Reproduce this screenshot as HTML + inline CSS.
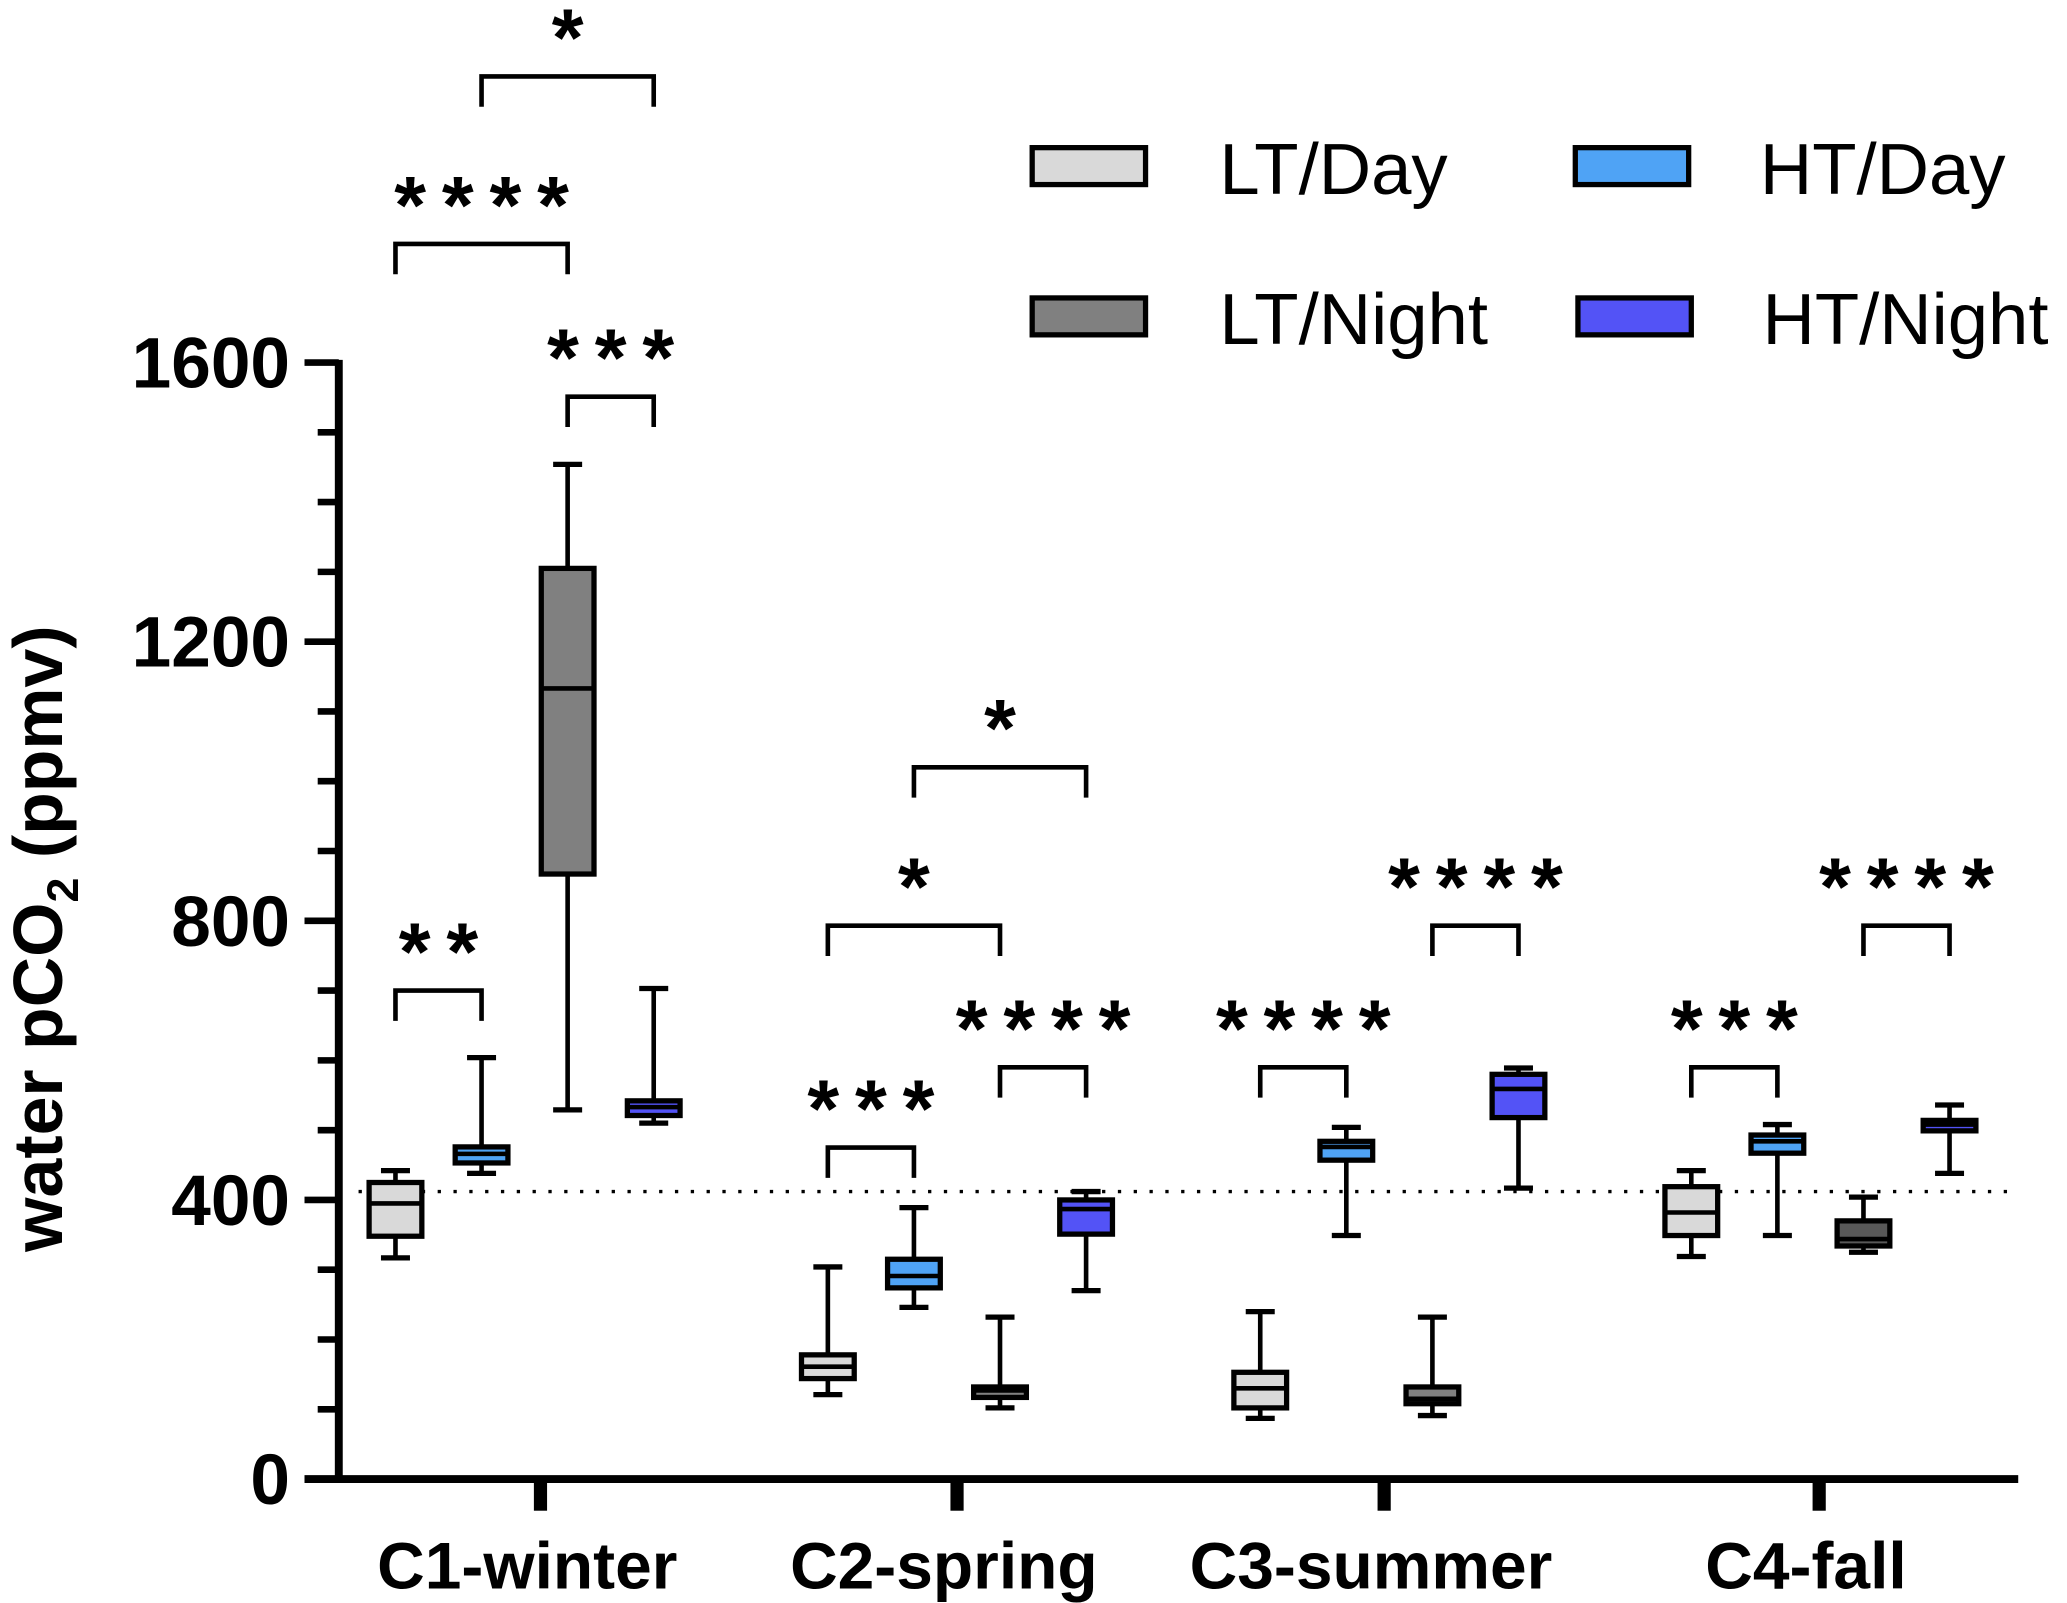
<!DOCTYPE html>
<html><head><meta charset="utf-8"><style>
html,body{margin:0;padding:0;background:#fff}
svg{display:block}
text{font-family:"Liberation Sans",Arial,sans-serif;fill:#000}
</style></head><body>
<svg id="chart" xmlns="http://www.w3.org/2000/svg" width="2067" height="1603" viewBox="0 0 1568 1216">
<g id="axes"></g>
<g id="marks"></g>
<g id="sig"></g>
<g id="legend"></g>
<text transform="translate(47,712) rotate(-90)" text-anchor="middle" font-size="53" font-weight="bold">water pCO<tspan font-size="34" dy="12">2</tspan><tspan dy="-12"> (ppmv)</tspan></text>
</svg>
<script>
const categories = ["C1-winter","C2-spring","C3-summer","C4-fall"];
const seriesNames = ["LT/Day","HT/Day","LT/Night","HT/Night"];
const yTicks = [0,400,800,1200,1600];
// [min,q1,median,q3,max] per category
const ltDay   = [[317,348,395,425,442],[121,144,161,178,304],[87,102,130,153,240],[319,349,382,419,442]];
const htDay   = [[438,453,466,476,604],[246,274,291,315,389],[349,457,476,484,504],[349,467,484,493,508]];
const ltNight = [[529,867,1133,1305,1454],[102,117,127,132,232],[91,108,115,132,232],[325,334,344,370,404]];
const htNight = [[510,521,533,542,703],[270,351,387,400,412],[417,518,559,580,589],[438,499,508,514,536]];
const refLine = 412;
// brackets: [category, fromSeries, toSeries, bracketValue, label]
const brackets = [
 [0,1,3,2010,"*"],[0,0,2,1770,"****"],[0,2,3,1551,"***"],[0,0,1,700,"**"],
 [1,1,3,1020,"*"],[1,0,2,793,"*"],[1,2,3,590,"****"],[1,0,1,475,"***"],
 [2,0,1,590,"****"],[2,2,3,793,"****"],
 [3,0,1,590,"***"],[3,2,3,793,"****"]
];
const allSeries = [ltDay, htDay, ltNight, htNight];
const colors = ["#d9d9d9","#4fa3f5","#808080","#5353f6"];
const c4NightColor = "#585858";

const NS="http://www.w3.org/2000/svg";
const y0=1122, yScale=(1122-275)/1600;
function yPos(v){return y0 - v*yScale;}
const groupStart=[300,628,956,1283], step=65.3;
function xPos(c,s){return groupStart[c]+s*step;}
const tickX=[410,726,1050,1380];
function el(tag,attrs,parent){const e=document.createElementNS(NS,tag);for(const k in attrs)e.setAttribute(k,attrs[k]);parent.appendChild(e);return e;}

const axes=document.getElementById('axes');
const marks=document.getElementById('marks');
const sig=document.getElementById('sig');
const legend=document.getElementById('legend');

let dl=el('line',{x1:272,x2:1530,y1:yPos(refLine),y2:yPos(refLine),stroke:'#000','stroke-width':2.5,'stroke-dasharray':'2.5 9.5'},axes);


let ya=el('line',{x1:257,x2:257,y1:273,y2:1125,stroke:'#000','stroke-width':6},axes);


let xa=el('line',{x1:231,x2:1531,y1:1122,y2:1122,stroke:'#000','stroke-width':6},axes);


for(let v=0;v<=1600;v+=100){
  const major=v%400===0;
  let t=el('line',{x1:major?231:241,x2:257,y1:yPos(v),y2:yPos(v),stroke:'#000','stroke-width':5},axes);
  
  
}
yTicks.forEach(v=>{
  let t=el('text',{x:220,y:yPos(v)+19,'text-anchor':'end','font-size':54,'font-weight':'bold'},axes);
  t.textContent=v;
  
  
});
categories.forEach((c,i)=>{
  let t=el('rect',{x:tickX[i]-5,y:1122,width:10,height:24,fill:'#000'},axes);
  
  
  let l=el('text',{x:tickX[i]-10,y:1205,'text-anchor':'middle','font-size':50,'font-weight':'bold'},axes);
  l.textContent=c;
  
  
});

const bw=40;
allSeries.forEach((ser,s)=>{
  ser.forEach((d,c)=>{
    const x=xPos(c,s);
    const g=el('g',{},marks);
    
    
    const [mn,q1,md,q3,mx]=d;
    el('line',{x1:x,x2:x,y1:yPos(mx),y2:yPos(q3),stroke:'#000','stroke-width':3.5},g);
    el('line',{x1:x,x2:x,y1:yPos(q1),y2:yPos(mn),stroke:'#000','stroke-width':3.5},g);
    el('line',{x1:x-11,x2:x+11,y1:yPos(mx),y2:yPos(mx),stroke:'#000','stroke-width':4},g);
    el('line',{x1:x-11,x2:x+11,y1:yPos(mn),y2:yPos(mn),stroke:'#000','stroke-width':4},g);
    const fill=(s===2&&c===3)?c4NightColor:colors[s];
    el('rect',{x:x-bw/2,y:yPos(q3),width:bw,height:Math.max(yPos(q1)-yPos(q3),1),fill:fill,stroke:'#000','stroke-width':4},g);
    el('line',{x1:x-bw/2,x2:x+bw/2,y1:yPos(md),y2:yPos(md),stroke:'#000','stroke-width':3.5},g);
  });
});

brackets.forEach(b=>{
  const [c,s1,s2,v,lab]=b;
  const x1=xPos(c,s1), x2=xPos(c,s2), y=yPos(v);
  const g=el('g',{},sig);
  
  
  el('path',{d:`M${x1},${y+23} V${y} H${x2} V${y+23}`,fill:'none',stroke:'#000','stroke-width':3.5},g);
  const t=el('text',{x:(x1+x2)/2+6,y:y-8,'text-anchor':'middle','font-size':62,'font-weight':'bold','letter-spacing':12},g);
  t.textContent=lab;
});

const legPos=[[783,112,925],[1195,112,1335],[783,226,925],[1197,226,1337]];
[0,1,2,3].forEach(i=>{
  const [x,y,tx]=legPos[i];
  const g=el('g',{},legend);
  
  
  el('rect',{x:x,y:y,width:86,height:28,fill:colors[i],stroke:'#000','stroke-width':4},g);
  const t=el('text',{x:tx,y:y+35,'font-size':55},g);
  t.textContent=seriesNames[i];
});
</script>
</body></html>
